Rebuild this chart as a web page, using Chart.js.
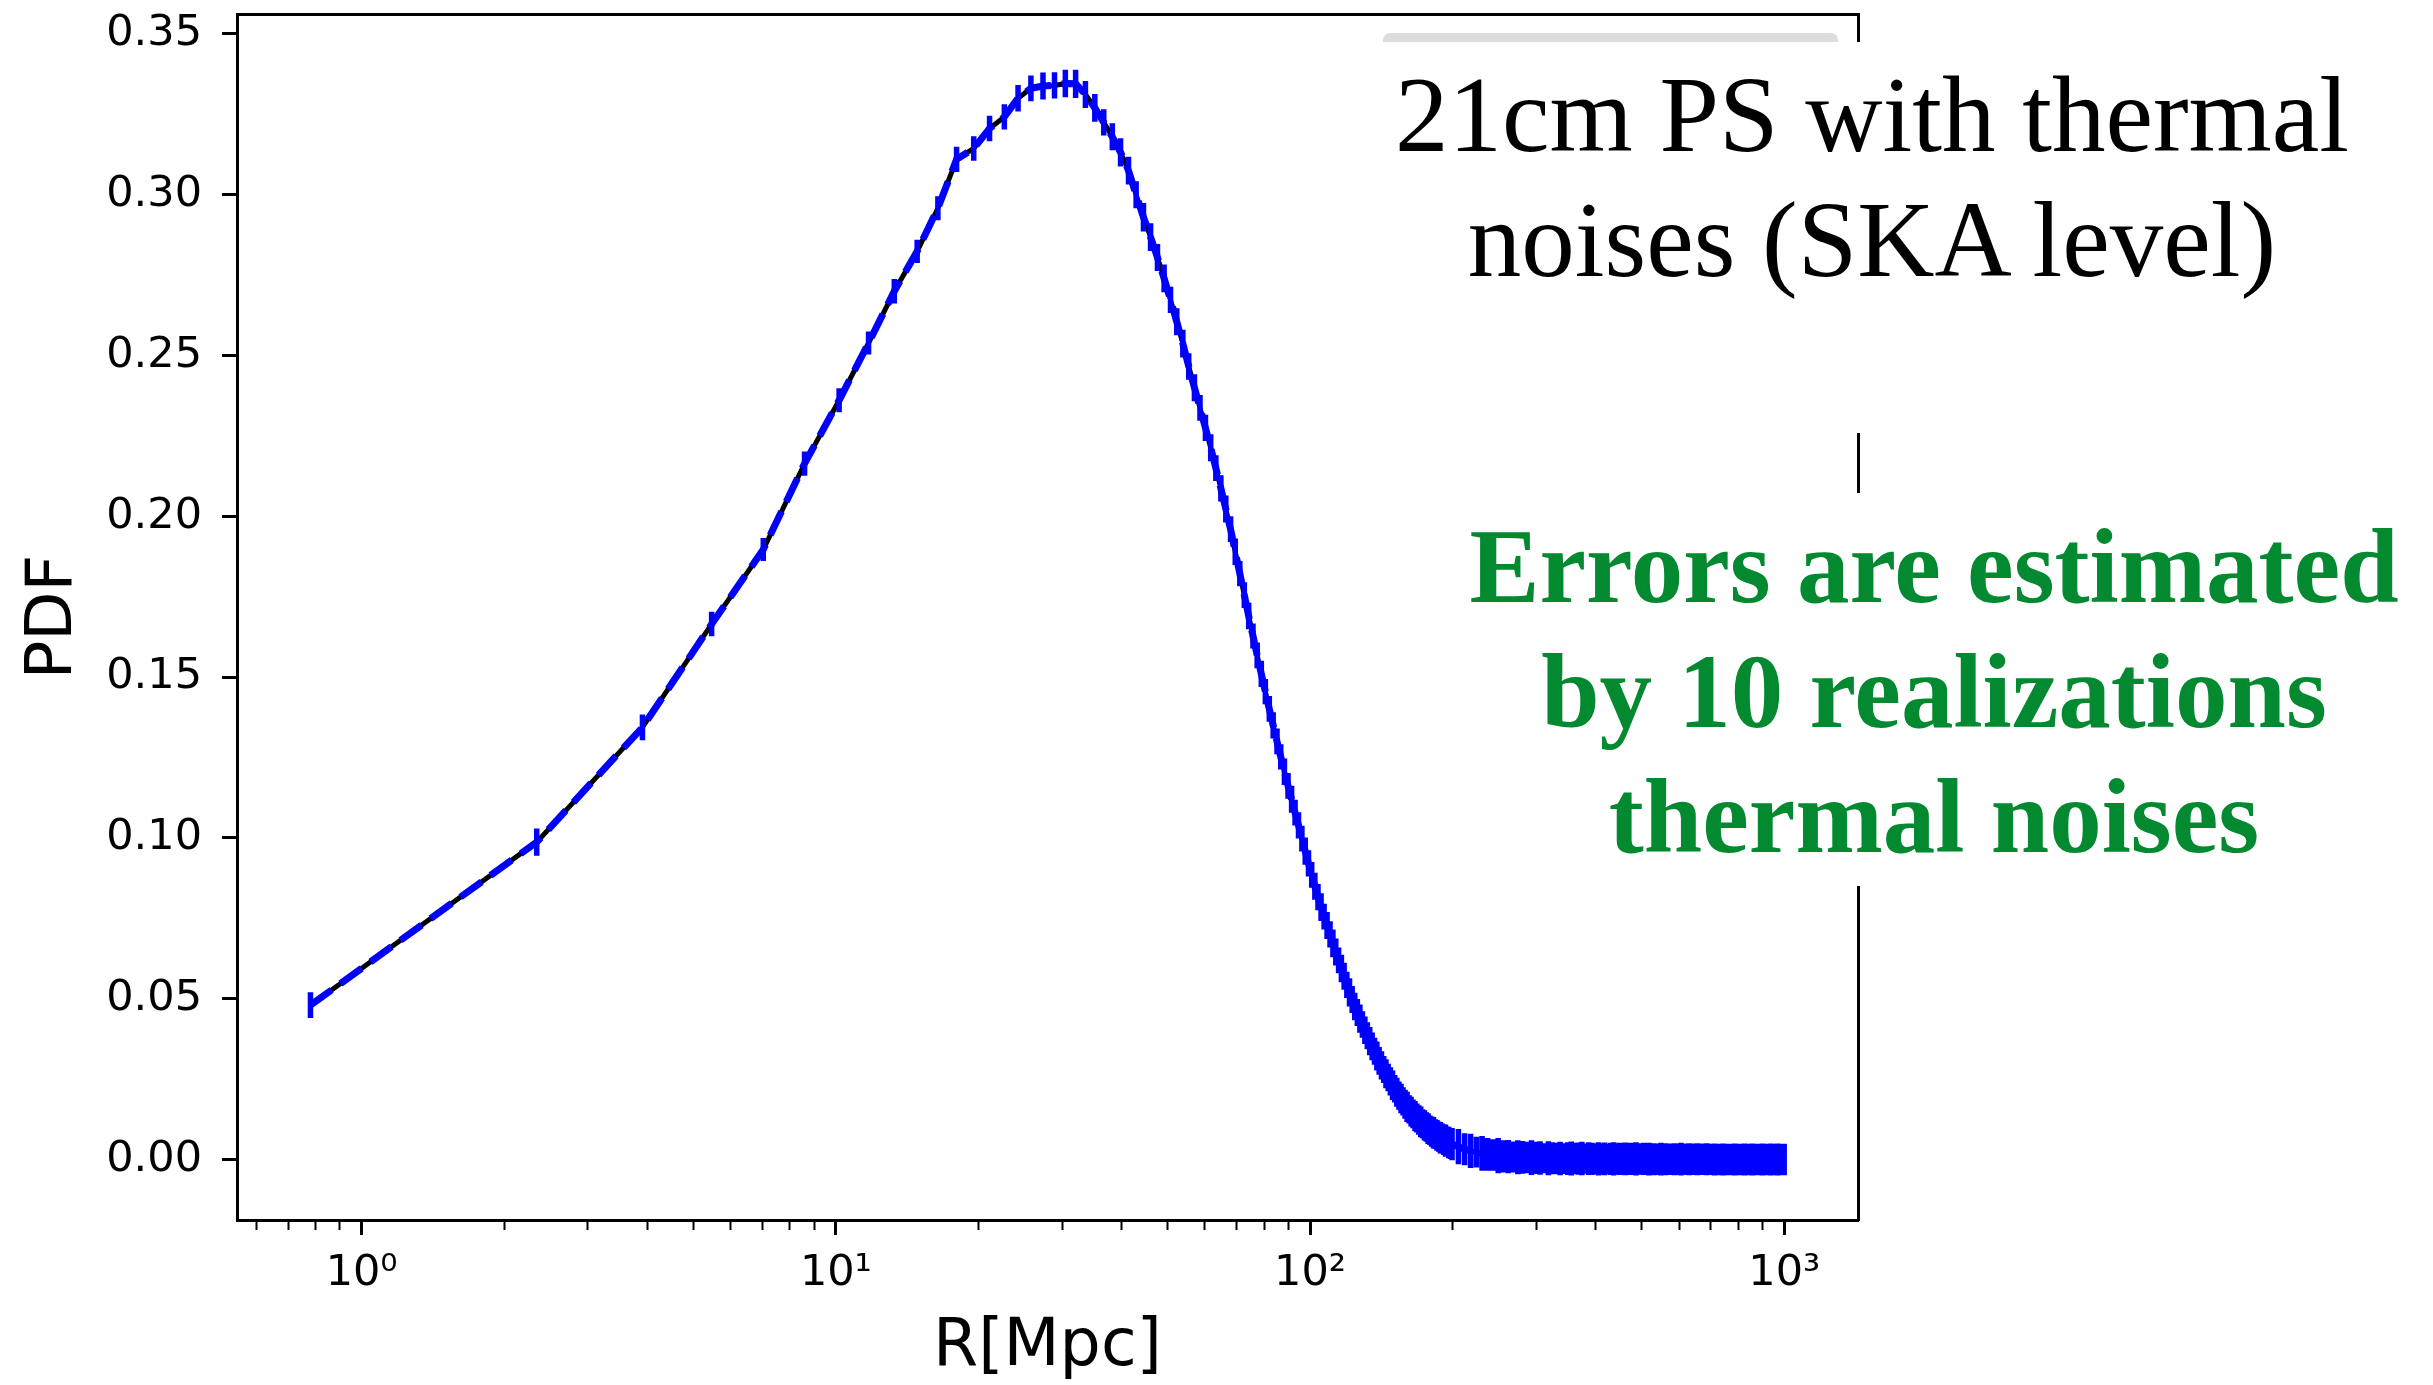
<!DOCTYPE html>
<html>
<head>
<meta charset="utf-8">
<script src="https://cdn.jsdelivr.net/npm/chart.js@4.4.1/dist/chart.umd.min.js"></script>
<style>
  html, body { margin: 0; padding: 0; background: #ffffff; }
  #wrap { position: relative; width: 2433px; height: 1385px; overflow: hidden; background: #ffffff; }
  #c { position: absolute; left: 0; top: 0; }
  .box { position: absolute; background: #ffffff; }
  .stub { position: absolute; background: #dcdcdc; border-radius: 7px 7px 0 0; }
  .t { position: absolute; width: 1400px; text-align: center; white-space: nowrap; }
  .blk { font-family: "Liberation Serif", "Times New Roman", serif; font-size: 107px; line-height: 107px; color: #000000; }
  .grn { font-family: "Liberation Serif", "Times New Roman", serif; font-weight: bold; font-size: 105px; line-height: 105px; color: #03892f; }
</style>
</head>
<body>
<div id="wrap">
  <canvas id="c" width="2433" height="1385"></canvas>
  <div class="stub" style="left:1383px;top:33px;width:455px;height:12px;"></div>
  <div class="box" style="left:1370px;top:42px;width:1063px;height:391px;"></div>
  <div class="box" style="left:1440px;top:493px;width:993px;height:393px;"></div>
  <div class="t blk" style="left:1172px;top:62px;">21cm PS with thermal</div>
  <div class="t blk" style="left:1172px;top:187px;">noises (SKA level)</div>
  <div class="t grn" style="left:1234px;top:514px;">Errors are estimated</div>
  <div class="t grn" style="left:1234px;top:639px;">by 10 realizations</div>
  <div class="t grn" style="left:1234px;top:764px;">thermal noises</div>
</div>
<script>
// ---------- data ----------
const rMpc = [
  0.78, 2.34, 3.91, 5.47, 7.03, 8.59, 10.16, 11.72, 13.28, 14.84,
  16.41, 17.97, 19.53, 21.09, 22.66, 24.22, 25.78, 27.34, 28.91, 30.47,
  32.03, 33.59, 35.16, 36.72, 38.28, 39.84, 41.41, 42.97, 44.53, 46.09,
  47.66, 49.22, 50.78, 52.34, 53.91, 55.47, 57.03, 58.59, 60.16, 61.72,
  63.28, 64.84, 66.41, 67.97, 69.53, 71.09, 72.66, 74.22, 75.78, 77.34,
  78.91, 80.47, 82.03, 83.59, 85.16, 86.72, 88.28, 89.84, 91.41, 92.97,
  94.53, 96.09, 97.66, 99.22, 100.78, 102.34, 103.91, 105.47, 107.03, 108.59,
  110.16, 111.72, 113.28, 114.84, 116.41, 117.97, 119.53, 121.09, 122.66, 124.22,
  125.78, 127.34, 128.91, 130.47, 132.03, 133.59, 135.16, 136.72, 138.28, 139.84,
  141.41, 142.97, 144.53, 146.09, 147.66, 149.22, 150.78, 152.34, 153.91, 155.47,
  157.03, 158.59, 160.16, 161.72, 163.28, 164.84, 166.41, 167.97, 169.53, 171.09,
  172.66, 174.22, 175.78, 177.34, 178.91, 180.47, 182.03, 183.59, 185.16, 186.72,
  188.28, 189.84, 191.41, 192.97, 194.53, 196.09, 197.66, 199.22,
  205.47, 211.72, 217.97, 224.22, 230.47, 236.72, 242.97, 249.22, 255.47, 261.72,
  267.97, 274.22, 280.47, 286.72, 292.97, 299.22, 305.47, 311.72, 317.97, 324.22,
  330.47, 336.72, 342.97, 349.22, 355.47, 361.72, 367.97, 374.22, 380.47, 386.72,
  392.97, 399.22, 405.47, 411.72, 417.97, 424.22, 430.47, 436.72, 442.97, 449.22,
  455.47, 461.72, 467.97, 474.22, 480.47, 486.72, 492.97, 499.22, 505.47, 511.72,
  517.97, 524.22, 530.47, 536.72, 542.97, 549.22, 555.47, 561.72, 567.97, 574.22,
  580.47, 586.72, 592.97, 599.22, 605.47, 611.72, 617.97, 624.22, 630.47, 636.72,
  642.97, 649.22, 655.47, 661.72, 667.97, 674.22, 680.47, 686.72, 692.97, 699.22,
  705.47, 711.72, 717.97, 724.22, 730.47, 736.72, 742.97, 749.22, 755.47, 761.72,
  767.97, 774.22, 780.47, 786.72, 792.97, 799.22, 805.47, 811.72, 817.97, 824.22,
  830.47, 836.72, 842.97, 849.22, 855.47, 861.72, 867.97, 874.22, 880.47, 886.72,
  892.97, 899.22, 905.47, 911.72, 917.97, 924.22, 930.47, 936.72, 942.97, 949.22,
  955.47, 961.72, 967.97, 974.22, 980.47, 986.72, 992.97, 999.22
];

const pdfValues = [
  0.0480, 0.0987, 0.1344, 0.1665, 0.1897, 0.2164, 0.2361, 0.2539, 0.2700, 0.2824,
  0.2958, 0.3110, 0.3144, 0.3206, 0.3242, 0.3300, 0.3331, 0.3338, 0.3340, 0.3346,
  0.3345, 0.3312, 0.3270, 0.3225, 0.3180, 0.3132, 0.3075, 0.3000, 0.2930, 0.2868,
  0.2805, 0.2740, 0.2673, 0.2605, 0.2537, 0.2466, 0.2400, 0.2337, 0.2275, 0.2213,
  0.2150, 0.2087, 0.2023, 0.1960, 0.1890, 0.1822, 0.1755, 0.1690, 0.1628, 0.1568,
  0.1510, 0.1455, 0.1401, 0.1350, 0.1300, 0.1252, 0.1206, 0.1162, 0.1120, 0.1079,
  0.1039, 0.0998, 0.0959, 0.0921, 0.0885, 0.0850, 0.0816, 0.0785, 0.0755, 0.0728,
  0.0700, 0.0672, 0.0645, 0.0619, 0.0594, 0.0570, 0.0543, 0.0520, 0.0498, 0.0476,
  0.0457, 0.0438, 0.0420, 0.0402, 0.0385, 0.0368, 0.0352, 0.0337, 0.0322, 0.0307,
  0.0293, 0.0280, 0.0267, 0.0255, 0.0243, 0.0231, 0.0220, 0.0209, 0.0199, 0.0190,
  0.0181, 0.0172, 0.0164, 0.0156, 0.0149, 0.0142, 0.0135, 0.0129, 0.0123, 0.0117,
  0.0111, 0.0106, 0.0101, 0.0096, 0.0091, 0.0087, 0.0083, 0.0079, 0.0075, 0.0071,
  0.0068, 0.0065, 0.0062, 0.0059, 0.0056, 0.0053, 0.0050, 0.0048,
  0.0040, 0.0032, 0.0027, 0.0023, 0.0019, 0.0016, 0.0014, 0.0012, 0.0010, 0.0009,
  0.0008, 0.0007, 0.0007, 0.0006, 0.0006, 0.0005, 0.0005, 0.0004, 0.0004, 0.0004,
  0.0003, 0.0003, 0.0003, 0.0003, 0.0003, 0.0003, 0.0003, 0.0003, 0.0003, 0.0003,
  0.0002, 0.0002, 0.0002, 0.0002, 0.0002, 0.0002, 0.0002, 0.0002, 0.0002, 0.0002,
  0.0002, 0.0002, 0.0002, 0.0002, 0.0002, 0.0002, 0.0002, 0.0002, 0.0002, 0.0002,
  0.0001, 0.0001, 0.0001, 0.0001, 0.0001, 0.0001, 0.0001, 0.0001, 0.0001, 0.0001,
  0.0001, 0.0001, 0.0001, 0.0001, 0.0001, 0.0001, 0.0001, 0.0001, 0.0001, 0.0001,
  0.0001, 0.0001, 0.0001, 0.0001, 0.0001, 0.0001, 0.0001, 0.0001, 0.0001, 0.0001,
  0, 0, 0, 0, 0, 0, 0, 0, 0, 0,
  0, 0, 0, 0, 0, 0, 0, 0, 0, 0,
  0, 0, 0, 0, 0, 0, 0, 0, 0, 0,
  0, 0, 0, 0, 0, 0, 0, 0, 0, 0,
  0, 0, 0, 0, 0, 0, 0, 0
];

const pdfErrors = [
  0.0040, 0.0042, 0.0040, 0.0038, 0.0036, 0.0038, 0.0037, 0.0036, 0.0038, 0.0036,
  0.0037, 0.0039, 0.0038, 0.0040, 0.0039, 0.0041, 0.0040, 0.0042, 0.0041, 0.0043,
  0.0044, 0.0042, 0.0043, 0.0041, 0.0042, 0.0044, 0.0043, 0.0042, 0.0044, 0.0043,
  0.0042, 0.0043, 0.0041, 0.0042, 0.0043, 0.0041, 0.0042, 0.0040, 0.0041, 0.0042,
  0.0040, 0.0041, 0.0042, 0.0040, 0.0041, 0.0039, 0.0040, 0.0041, 0.0039, 0.0040,
  0.0041, 0.0039, 0.0040, 0.0041, 0.0040, 0.0039, 0.0041, 0.0040, 0.0042, 0.0040,
  0.0041, 0.0040, 0.0042, 0.0041, 0.0040, 0.0042, 0.0041, 0.0043, 0.0040, 0.0042,
  0.0041, 0.0043, 0.0042, 0.0040, 0.0043, 0.0042, 0.0041, 0.0044, 0.0042, 0.0043,
  0.0042, 0.0044, 0.0041, 0.0043, 0.0042, 0.0044, 0.0043, 0.0042, 0.0045, 0.0043,
  0.0044, 0.0042, 0.0045, 0.0043, 0.0044, 0.0046, 0.0043, 0.0045, 0.0044, 0.0046,
  0.0044, 0.0045, 0.0047, 0.0044, 0.0046, 0.0045, 0.0047, 0.0045, 0.0046, 0.0048,
  0.0045, 0.0047, 0.0046, 0.0048, 0.0046, 0.0047, 0.0049, 0.0046, 0.0048, 0.0047,
  0.0049, 0.0047, 0.0048, 0.0050, 0.0047, 0.0049, 0.0048, 0.0050,
  0.0055, 0.0050, 0.0053, 0.0048, 0.0054, 0.0051, 0.0049, 0.0055, 0.0050, 0.0052,
  0.0048, 0.0053, 0.0051, 0.0049, 0.0054, 0.0050, 0.0052, 0.0047, 0.0053, 0.0050,
  0.0049, 0.0052, 0.0048, 0.0051, 0.0053, 0.0049, 0.0050, 0.0052, 0.0047, 0.0051,
  0.0050, 0.0048, 0.0052, 0.0049, 0.0051, 0.0047, 0.0050, 0.0052, 0.0048, 0.0050,
  0.0049, 0.0051, 0.0047, 0.0050, 0.0048, 0.0052, 0.0049, 0.0047, 0.0050, 0.0048,
  0.0051, 0.0048, 0.0050, 0.0047, 0.0049, 0.0051, 0.0048, 0.0050, 0.0047, 0.0049,
  0.0048, 0.0050, 0.0047, 0.0049, 0.0051, 0.0048, 0.0046, 0.0049, 0.0050, 0.0047,
  0.0049, 0.0047, 0.0050, 0.0048, 0.0046, 0.0049, 0.0047, 0.0050, 0.0048, 0.0046,
  0.0048, 0.0050, 0.0047, 0.0049, 0.0046, 0.0048, 0.0050, 0.0047, 0.0049, 0.0048,
  0.0046, 0.0049, 0.0047, 0.0050, 0.0048, 0.0046, 0.0049, 0.0047, 0.0048, 0.0050,
  0.0047, 0.0049, 0.0046, 0.0048, 0.0050, 0.0047, 0.0049, 0.0046, 0.0048, 0.0049,
  0.0047, 0.0050, 0.0048, 0.0046, 0.0049, 0.0047, 0.0048, 0.0050, 0.0046, 0.0049,
  0.0048, 0.0047, 0.0050, 0.0046, 0.0049, 0.0048, 0.0047, 0.0049
];

const xMajorTicks = [1, 10, 100, 1000];
const xTickValues = [0.6, 0.7, 0.8, 0.9, 1, 2, 3, 4, 5, 6, 7, 8, 9, 10,
  20, 30, 40, 50, 60, 70, 80, 90, 100, 200, 300, 400, 500, 600, 700, 800, 900, 1000];
const yTickValues = [0.00, 0.05, 0.10, 0.15, 0.20, 0.25, 0.30, 0.35];
const superDigits = ['\u2070', '\u00B9', '\u00B2', '\u00B3'];
const xLabel = 'R[Mpc]';
const yLabel = 'PDF';

// ---------- chart ----------
const X_MIN = 0.546, X_MAX = 1430;
const Y_MIN = -0.0188, Y_MAX = 0.3562;

const lineData = rMpc.map((r, i) => ({ x: r, y: pdfValues[i] }));
const errData = [];
rMpc.forEach((r, i) => {
  errData.push({ x: r, y: pdfValues[i] - pdfErrors[i] });
  errData.push({ x: r, y: pdfValues[i] + pdfErrors[i] });
  errData.push({ x: r, y: null });
});

const isMajor = (v) => xMajorTicks.indexOf(v) !== -1;

new Chart(document.getElementById('c'), {
  type: 'scatter',
  data: {
    datasets: [
      { label: 'true', data: lineData, showLine: true, borderColor: '#000000', borderWidth: 5,
        pointRadius: 0, tension: 0, order: 3 },
      { label: 'errors', data: errData, showLine: true, spanGaps: false, borderColor: '#0000ff',
        borderWidth: 5.5, borderCapStyle: 'butt', pointRadius: 0, tension: 0, order: 2 },
      { label: 'noisy', data: lineData, showLine: true, borderColor: '#0000ff', borderWidth: 7,
        borderDash: [26, 11], pointRadius: 0, tension: 0, order: 1 }
    ]
  },
  options: {
    responsive: false,
    devicePixelRatio: 1,
    animation: false,
    events: [],
    layout: { padding: { left: 0, top: 14, right: 575, bottom: 0 } },
    plugins: { legend: { display: false }, tooltip: { enabled: false } },
    scales: {
      x: {
        type: 'logarithmic', position: 'bottom', min: X_MIN, max: X_MAX,
        afterBuildTicks: (s) => { s.ticks = xTickValues.map(v => ({ value: v, major: isMajor(v) })); },
        afterFit: (s) => { s.height = 165; s.paddingLeft = 0; s.paddingRight = 0; },
        ticks: {
          autoSkip: false, maxRotation: 0, minRotation: 0, padding: 13, color: '#000000',
          font: { family: 'DejaVu Sans', size: 43 },
          callback: (v) => isMajor(v) ? '10' + superDigits[Math.round(Math.log10(v))] : ''
        },
        grid: {
          display: true, drawOnChartArea: false, drawTicks: true, tickLength: 15, tickColor: '#000000',
          tickWidth: (ctx) => (ctx.tick && isMajor(ctx.tick.value)) ? 3 : 2,
          tickBorderDash: (ctx) => (ctx.tick && isMajor(ctx.tick.value)) ? [] : [8, 40]
        },
        border: { display: true, color: '#000000', width: 3 },
        title: { display: true, text: xLabel, color: '#000000',
          font: { family: 'DejaVu Sans', size: 65, lineHeight: 1 }, padding: { top: 0, bottom: 4 } }
      },
      y: {
        type: 'linear', position: 'left', min: Y_MIN, max: Y_MAX,
        afterBuildTicks: (s) => { s.ticks = yTickValues.map(v => ({ value: v })); },
        afterFit: (s) => { s.width = 237; s.paddingTop = 0; s.paddingBottom = 0; },
        ticks: { padding: 20, color: '#000000', font: { family: 'DejaVu Sans', size: 43 },
          callback: (v) => Number(v).toFixed(2) },
        grid: { display: true, drawOnChartArea: false, drawTicks: true, tickLength: 15,
          tickWidth: 3, tickColor: '#000000' },
        border: { display: true, color: '#000000', width: 3 },
        title: { display: true, text: yLabel, color: '#000000',
          font: { family: 'DejaVu Sans', size: 64, lineHeight: 1.2 }, padding: { top: 16, bottom: 0 } }
      },
      xTop: {
        type: 'logarithmic', position: 'top', min: X_MIN, max: X_MAX,
        ticks: { display: false }, grid: { display: false, drawTicks: false },
        border: { display: true, color: '#000000', width: 3 },
        afterFit: (s) => { s.height = 0; s.paddingLeft = 0; s.paddingRight = 0; }
      },
      yRight: {
        type: 'linear', position: 'right', min: Y_MIN, max: Y_MAX,
        ticks: { display: false }, grid: { display: false, drawTicks: false },
        border: { display: true, color: '#000000', width: 3 },
        afterFit: (s) => { s.width = 0; s.paddingTop = 0; s.paddingBottom = 0; }
      }
    }
  }
});
</script>
</body>
</html>
